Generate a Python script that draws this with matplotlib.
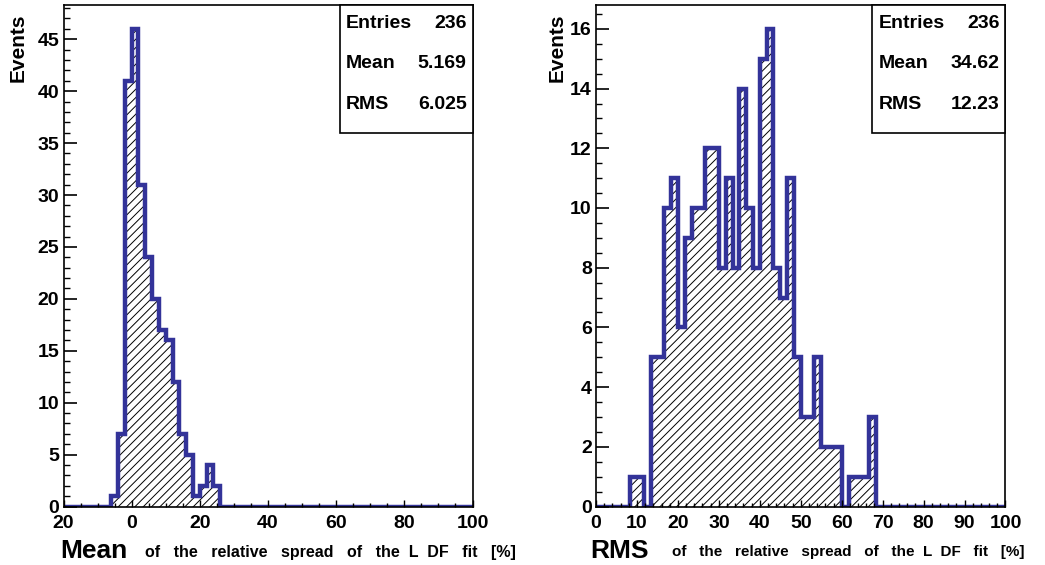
import numpy as np
import matplotlib
matplotlib.use("Agg")
import matplotlib.pyplot as plt
from matplotlib.patches import Rectangle

# 60 bins each
mean_counts = [0, 0, 0, 0, 0, 0, 0, 1, 7, 41, 46, 31, 24, 20, 17, 16, 12, 7, 5, 1,
               2, 4, 2, 0, 0, 0, 0, 0, 0, 0, 0, 0, 0, 0, 0, 0, 0, 0, 0, 0,
               0, 0, 0, 0, 0, 0, 0, 0, 0, 0, 0, 0, 0, 0, 0, 0, 0, 0, 0, 0]
rms_counts = [0, 0, 0, 0, 0, 1, 1, 0, 5, 5, 10, 11, 6, 9, 10, 10, 12, 12, 8, 11,
              8, 14, 10, 8, 15, 16, 8, 7, 11, 5, 3, 3, 5, 2, 2, 2, 0, 1, 1, 1,
              3, 0, 0, 0, 0, 0, 0, 0, 0, 0, 0, 0, 0, 0, 0, 0, 0, 0, 0, 0]
mean_range = (-20, 100)
rms_range = (0, 100)
mean_ticks = [-20, 0, 20, 40, 60, 80, 100]
mean_ticklabels = ["20", "0", "20", "40", "60", "80", "100"]
mean_stats = [("Entries", "236"), ("Mean", "5.169"), ("RMS", "6.025")]
rms_stats = [("Entries", "236"), ("Mean", "34.62"), ("RMS", "12.23")]

blue = "#333399"
font = "Liberation Sans"
W, H = 1045, 565

plt.rcParams["hatch.linewidth"] = 0.7
fig = plt.figure(figsize=(10.45, 5.65), dpi=100)
axL = fig.add_axes([63.5 / W, 1 - 506.5 / H, 409 / W, 501.5 / H])
axR = fig.add_axes([596 / W, 1 - 506.5 / H, 409.5 / W, 501.5 / H])


def draw(ax, counts, rng, ymaj, ymin, xmaj, xmin, stats, ylab_x):
    counts = np.array(counts)
    edges = np.linspace(rng[0], rng[1], len(counts) + 1)
    ax.stairs(counts, edges, fill=True, facecolor="none", edgecolor="black",
              linewidth=0, hatch="////", baseline=0)
    ax.stairs(counts, edges, fill=False, color=blue, linewidth=3.2, baseline=0)
    ax.set_xlim(rng)
    ax.set_ylim(0, counts.max() * 1.05)
    ax.yaxis.set_major_locator(plt.MultipleLocator(ymaj))
    ax.yaxis.set_minor_locator(plt.MultipleLocator(ymin))
    ax.xaxis.set_major_locator(plt.MultipleLocator(xmaj))
    ax.xaxis.set_minor_locator(plt.MultipleLocator(xmin))
    ax.tick_params(axis="y", which="major", direction="in", length=9, width=1.2, pad=3)
    ax.tick_params(axis="y", which="minor", direction="in", length=4.5, width=1.0)
    ax.tick_params(axis="x", which="major", direction="in", length=5, width=1.0, pad=6)
    ax.tick_params(axis="x", which="minor", direction="in", length=3, width=1.0)
    for s in ax.spines.values():
        s.set_linewidth(1.2)
    ax.text(ylab_x, 1 - 8 / 501.5, "Events", transform=ax.transAxes,
            rotation=90, ha="center", va="top", fontsize=15, fontweight="bold",
            family=font)
    # stat box
    bx0 = 1 - 133 / 409
    by0 = 1 - 128 / 501.5
    ax.add_patch(Rectangle((bx0, by0), 1 - bx0, 1 - by0, transform=ax.transAxes,
                           facecolor="white", edgecolor="black", linewidth=1.2,
                           zorder=5, clip_on=False))
    for i, (k, v) in enumerate(stats):
        yy = 1 - (18 + 41 * i) / 501.5
        ax.text(bx0 + 6 / 409, yy, k, transform=ax.transAxes, ha="left",
                va="center", fontsize=14, fontweight="bold",
                family=font, zorder=6)
        ax.text(1 - 6 / 409, yy, v, transform=ax.transAxes, ha="right",
                va="center", fontsize=14, fontweight="bold",
                family=font, zorder=6)


draw(axL, mean_counts, mean_range, 5, 1, 20, 5, mean_stats, -(63.5 - 18) / 409)
axL.set_xticks(mean_ticks)
axL.set_xticklabels(mean_ticklabels)
draw(axR, rms_counts, rms_range, 2, 0.5, 10, 2, rms_stats, -(596 - 557) / 409.5)

for ax in (axL, axR):
    for lab in ax.get_xticklabels() + ax.get_yticklabels():
        lab.set_family(font)
        lab.set_fontweight("bold")
        lab.set_fontsize(14)

# x axis titles
sub = "of   the   relative   spread   of   the  L  DF   fit   [%]"
fig.text(60 / W, 1 - 551 / H, "Mean", fontsize=19, fontweight="bold",
         family=font, va="center", ha="left")
fig.text(145 / W, 1 - 552 / H, sub, fontsize=11.5, fontweight="bold",
         family=font, va="center", ha="left")
fig.text(590 / W, 1 - 551 / H, "RMS", fontsize=19, fontweight="bold",
         family=font, va="center", ha="left")
fig.text(672 / W, 1 - 552 / H, sub, fontsize=11, fontweight="bold",
         family=font, va="center", ha="left")

fig.savefig("out.png", dpi=100)
